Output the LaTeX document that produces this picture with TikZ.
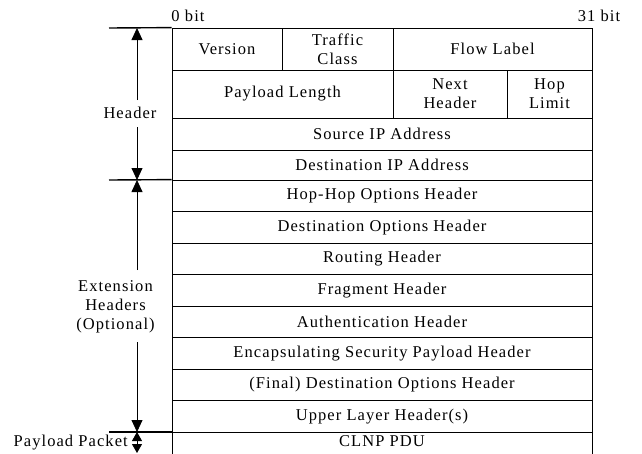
\documentclass[tikz,border=0pt]{standalone}
\usepackage{fontspec}
\setmainfont{Liberation Serif}[LetterSpace=6.5]
\usetikzlibrary{arrows.meta}
\begin{document}
\begin{tikzpicture}[x=1pt,y=-1pt,
  every node/.style={font=\fontsize{16.5}{19}\selectfont},
  cell/.style={draw, line width=0.8pt, inner sep=0pt, align=center},
  lbl/.style={align=center, inner sep=0pt},
  sep/.style={line width=1.4pt},
  arr/.style={line width=0.8pt, -{Triangle[length=12pt,width=11pt]}},
  darr/.style={line width=0.8pt, {Triangle[length=9pt,width=10pt]}-{Triangle[length=9pt,width=10pt]}}]
\useasboundingbox (0,0) rectangle (642,453);
\clip (0,0) rectangle (642,453);
% bit labels
\node (b0) at (188,16) {0 bit};
\node (b31) at (599,16) {31 bit};
% fixed header
\node[cell, minimum width=110pt, minimum height=42pt] (ver) at (227,49) {Version};
\node[cell, minimum width=111pt, minimum height=42pt] (tc) at (337.5,49) {Traffic\\Class};
\node[cell, minimum width=199pt, minimum height=42pt] (fl) at (492.5,49) {Flow Label};
\node[cell, minimum width=221pt, minimum height=48pt] (pl) at (282.5,94) {Payload Length};
\node[cell, minimum width=114pt, minimum height=48pt] (nh) at (450,94) {Next\\Header};
\node[cell, minimum width=85pt, minimum height=48pt] (hl) at (549.5,94) {Hop\\Limit};
\node[cell, minimum width=420pt, minimum height=32pt] (src) at (382,134) {Source IP Address};
\node[cell, minimum width=420pt, minimum height=30pt] (dst) at (382,165) {Destination IP Address};
% extension headers
\node[cell, minimum width=420pt, minimum height=31.5pt] (e1) at (382,195.75) {Hop-Hop Options Header};
\node[cell, minimum width=420pt, minimum height=31.5pt] (e2) at (382,227.25) {Destination Options Header};
\node[cell, minimum width=420pt, minimum height=31.5pt] (e3) at (382,258.75) {Routing Header};
\node[cell, minimum width=420pt, minimum height=31.5pt] (e4) at (382,290.25) {Fragment Header};
\node[cell, minimum width=420pt, minimum height=31.5pt] (e5) at (382,321.75) {Authentication Header};
\node[cell, minimum width=420pt, minimum height=31.5pt] (e6) at (382,353.25) {Encapsulating Security Payload Header};
\node[cell, minimum width=420pt, minimum height=31.5pt] (e7) at (382,384.75) {(Final) Destination Options Header};
\node[cell, minimum width=420pt, minimum height=31.5pt] (e8) at (382,416.25) {Upper Layer Header(s)};
\node[cell, minimum width=420pt, minimum height=42pt, anchor=north] (pdu) at (382,432) {};
\node (pdutxt) at (382,441) {CLNP PDU};
% left separators
\coordinate (s1) at (109,28);
\coordinate (s2) at (109,180);
\coordinate (s3) at (109,432);
\draw[sep] (s1) -- (ver.north west);
\draw[sep] (s2) -- (e1.north west);
\draw[sep] (s3) -- (pdu.north west);
% arrows and labels
\coordinate (ht) at (137,28);
\coordinate (hb) at (137,180);
\coordinate (hg1) at (137,100);
\coordinate (hg2) at (137,127);
\coordinate (xt) at (137,180);
\coordinate (xb) at (137,432);
\coordinate (xg1) at (137,270);
\coordinate (xg2) at (137,342);
\coordinate (pt) at (137,432);
\coordinate (pb) at (137,453);
\node[lbl] (hdr) at (130,113) {Header};
\node[lbl] (ext) at (115.5,306.5) {Extension\\Headers\\(Optional)};
\node[anchor=east, inner sep=0pt] (pp) at (128,443) {Payload Packet};
\draw[arr] (hg1) -- (ht);
\draw[arr] (hg2) -- (hb);
\draw[arr] (xg1) -- (xt);
\draw[arr] (xg2) -- (xb);
\draw[darr] (pt) -- (pb);
\end{tikzpicture}
\end{document}
